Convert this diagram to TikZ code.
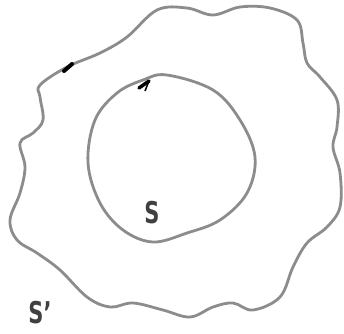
\documentclass[tikz,border=0pt]{standalone}
\usepackage{fontspec}
\setsansfont{DejaVu Sans}
\begin{document}
\begin{tikzpicture}[x=1pt,y=-1pt,
  curve/.style={draw=black!45,line width=2.8pt,line join=round},
  tick/.style={draw=black,line width=4pt,line cap=round},
  lbl/.style={text=black!75,font=\sffamily\bfseries\fontsize{30}{30}\selectfont,inner sep=0pt,xscale=0.7}]
\useasboundingbox (0,0) rectangle (344,333);
\draw[curve] plot[smooth cycle,tension=0.6] coordinates {
 (40,85) (67,67) (100,53) (127,37) (157,10) (187,8) (213,15) (240,7) (270,8)
 (297,20) (303,43) (307,63) (320,77) (337,100) (337,127) (333,147) (340,173)
 (340,207) (327,227) (307,243) (293,267) (280,297) (253,310) (233,303) (213,307)
 (190,317) (163,310) (133,303) (110,307) (87,297) (60,270) (37,253) (17,240)
 (10,220) (20,193) (25,167) (20,143) (33,133) (43,120) (40,97)};
\draw[curve] plot[smooth cycle,tension=0.6] coordinates {
 (167,75) (213,90) (240,120) (255,157) (247,193) (220,220) (187,233) (153,242)
 (123,230) (100,203) (88,163) (95,120) (117,93) (143,80)};
\coordinate (m1a) at (64,71); \coordinate (m1b) at (72,64);
\draw[tick] (m1a) -- (m1b);
\coordinate (m2a) at (139,88); \coordinate (m2b) at (149,81);
\coordinate (m2c) at (145,91);
\draw[tick,line width=3.5pt] (m2a) -- (m2b);
\draw[draw=black,line width=1.5pt] (m2b) -- (m2c);
\node[lbl] (s) at (152,213) {S};
\node[lbl] (sp) at (40,313) {S'};
\end{tikzpicture}
\end{document}
